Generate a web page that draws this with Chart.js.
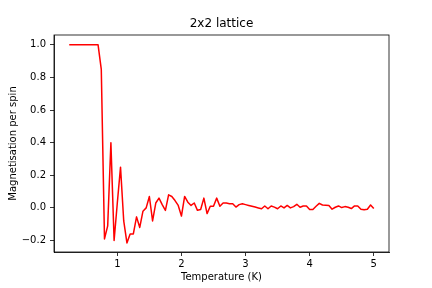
<!DOCTYPE html>
<html><head><meta charset="utf-8">
<script src="https://cdn.jsdelivr.net/npm/chart.js@4/dist/chart.umd.min.js"></script>
<style>html,body{margin:0;padding:0;background:#fff;}#wrap{width:432px;height:288px;}</style>
</head><body><div id="wrap"><canvas id="c" width="432" height="288"></canvas></div>
<script>
const chartTitle = "2x2 lattice";
const xLabel = "Temperature (K)";
const yLabel = "Magnetisation per spin";
const xTicks = [1, 2, 3, 4, 5];
const yTicks = [-0.2, 0.0, 0.2, 0.4, 0.6, 0.8, 1.0];
const temperature = [
  0.25,0.30,0.35,0.40,0.45,0.50,0.55,0.60,0.65,0.70,
  0.75,0.80,0.85,0.90,0.95,1.00,1.05,1.10,1.15,1.20,
  1.25,1.30,1.35,1.40,1.45,1.50,1.55,1.60,1.65,1.70,
  1.75,1.80,1.85,1.90,1.95,2.00,2.05,2.10,2.15,2.20,
  2.25,2.30,2.35,2.40,2.45,2.50,2.55,2.60,2.65,2.70,
  2.75,2.80,2.85,2.90,2.95,3.00,3.05,3.10,3.15,3.20,
  3.25,3.30,3.35,3.40,3.45,3.50,3.55,3.60,3.65,3.70,
  3.75,3.80,3.85,3.90,3.95,4.00,4.05,4.10,4.15,4.20,
  4.25,4.30,4.35,4.40,4.45,4.50,4.55,4.60,4.65,4.70,
  4.75,4.80,4.85,4.90,4.95,5.00
];
const magnetisation = [
  1,1,1,1,1,1,1,1,1,1,
  0.85,-0.19,-0.11,0.40,-0.20,0.03,0.25,-0.08,-0.215,-0.16,
  -0.16,-0.055,-0.12,-0.02,0.0,0.07,-0.08,0.03,0.06,0.02,
  -0.015,0.08,0.07,0.045,0.015,-0.05,0.07,0.035,0.015,0.03,
  -0.015,-0.01,0.06,-0.035,0.01,0.01,0.06,0.01,0.03,0.03,
  0.025,0.025,0.005,0.02,0.025,0.02,0.015,0.01,0.005,0.0,
  -0.005,0.012,-0.005,0.012,0.005,-0.005,0.012,0.0,0.015,0.0,
  0.008,0.022,0.004,0.012,0.012,-0.01,-0.01,0.01,0.028,0.018,
  0.016,0.014,-0.008,0.004,0.012,0.002,0.008,0.004,-0.004,0.012,
  0.012,-0.008,-0.012,-0.008,0.018,-0.004
];

Chart.defaults.font.family = "'DejaVu Sans', sans-serif";
Chart.defaults.color = '#000';

const xmin = 0.0125, xmax = 5.2375, ymin = -0.2705, ymax = 1.0605;

const framePlugin = {
  id: 'frame',
  afterDraw(chart) {
    const {ctx, chartArea: a} = chart;
    ctx.save();
    ctx.strokeStyle = '#000';
    ctx.lineWidth = 0.8;
    ctx.strokeRect(a.left, a.top, a.right - a.left, a.bottom - a.top);
    ctx.fillStyle = '#000';
    ctx.font = "12px 'DejaVu Sans', sans-serif";
    ctx.textAlign = 'center';
    ctx.textBaseline = 'middle';
    ctx.fillText(chartTitle, (a.left + a.right) / 2, 24);
    ctx.restore();
  }
};

new Chart(document.getElementById('c'), {
  type: 'line',
  data: {
    datasets: [{
      data: temperature.map((t, i) => ({x: t, y: magnetisation[i]})),
      borderColor: '#ff0000',
      borderWidth: 1.5,
      pointRadius: 0,
      tension: 0,
      fill: false,
      borderJoinStyle: 'round',
      borderCapStyle: 'butt'
    }]
  },
  options: {
    responsive: false,
    animation: false,
    devicePixelRatio: 1,
    layout: {padding: {top: 35, right: 43, left: 0, bottom: 0}},
    plugins: {legend: {display: false}, tooltip: {enabled: false}, title: {display: false}},
    scales: {
      x: {
        type: 'linear', min: xmin, max: xmax,
        afterFit: s => { s.height = 36; },
        afterBuildTicks: s => { s.ticks = xTicks.map(v => ({value: v})); },
        grid: {display: true, drawOnChartArea: false, drawTicks: true, tickLength: 4, color: '#000', tickWidth: 0.8},
        border: {display: true, color: '#000', width: 0.8},
        ticks: {font: {size: 10}, color: '#000', padding: 2, maxRotation: 0, autoSkip: false,
                callback: v => String(v)},
        title: {display: true, text: xLabel, font: {size: 10}, color: '#000', padding: {top: 0, bottom: 5}}
      },
      y: {
        type: 'linear', min: ymin, max: ymax,
        afterFit: s => { s.width = 54; },
        afterBuildTicks: s => { s.ticks = yTicks.map(v => ({value: v})); },
        grid: {display: true, drawOnChartArea: false, drawTicks: true, tickLength: 4, color: '#000', tickWidth: 0.8},
        border: {display: true, color: '#000', width: 0.8},
        ticks: {font: {size: 10}, color: '#000', padding: 4, autoSkip: false,
                callback: v => (v < 0 ? '\u2212' : '') + Math.abs(v).toFixed(1)},
        title: {display: true, text: yLabel, font: {size: 10}, color: '#000', padding: {top: 7, bottom: 0}}
      }
    }
  },
  plugins: [framePlugin]
});
</script>
</body></html>
